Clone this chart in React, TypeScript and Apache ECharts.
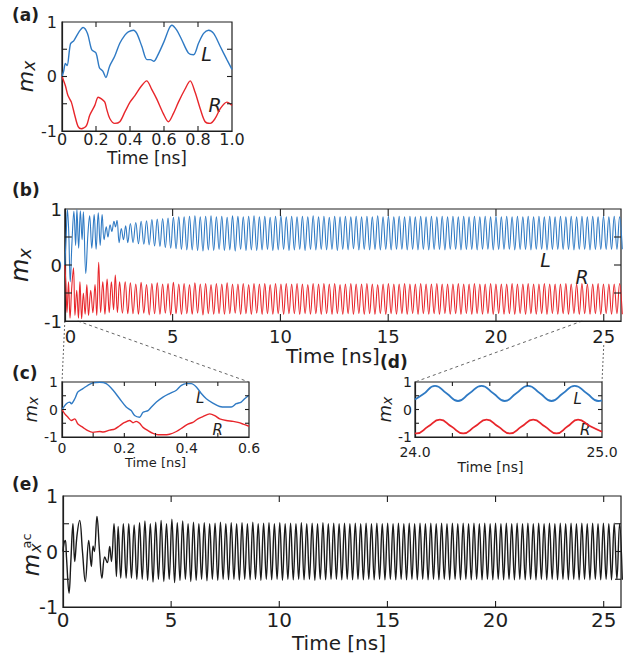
import React, { useEffect, useRef } from 'react';
import * as echarts from 'echarts';

const FONT = "'DejaVu Sans', 'Liberation Sans', Arial, sans-serif";
const INK = '#1e1e1e';
const BLUE = '#2f7ac4';
const RED = '#e8262b';
const BLACK = '#1a1a1a';

// ---------- (a) 0–1 ns ----------
const aL: number[][] = [
  [0, 0], [0.01, 0.1], [0.02, 0.24], [0.03, 0.2], [0.05, 0.6], [0.07, 0.66], [0.1, 0.82], [0.124, 0.9],
  [0.15, 0.79], [0.175, 0.49], [0.2, 0.43], [0.22, 0.16], [0.24, 0.1], [0.258, -0.02], [0.28, 0.19],
  [0.31, 0.37], [0.34, 0.61], [0.37, 0.76], [0.39, 0.82], [0.42, 0.85], [0.44, 0.79], [0.47, 0.55],
  [0.5, 0.31], [0.52, 0.31], [0.54, 0.28], [0.56, 0.37], [0.6, 0.64], [0.63, 0.88], [0.646, 0.94],
  [0.675, 0.85], [0.705, 0.67], [0.744, 0.43], [0.774, 0.4], [0.803, 0.61], [0.833, 0.79], [0.862, 0.85],
  [0.892, 0.79], [0.931, 0.55], [0.97, 0.31], [1.0, 0.13],
];
const aR: number[][] = [
  [0, 0], [0.02, -0.17], [0.035, -0.35], [0.055, -0.47], [0.075, -0.71], [0.095, -0.92], [0.114, -0.96],
  [0.144, -0.9], [0.163, -0.71], [0.193, -0.53], [0.213, -0.38], [0.232, -0.41], [0.252, -0.47],
  [0.262, -0.59], [0.281, -0.77], [0.31, -0.86], [0.34, -0.83], [0.37, -0.65], [0.4, -0.47], [0.429, -0.35],
  [0.468, -0.17], [0.498, -0.08], [0.527, -0.23], [0.557, -0.41], [0.596, -0.68], [0.626, -0.83],
  [0.655, -0.68], [0.685, -0.47], [0.724, -0.23], [0.754, -0.08], [0.783, -0.29], [0.813, -0.59],
  [0.842, -0.83], [0.872, -0.86], [0.901, -0.77], [0.931, -0.59], [0.97, -0.47], [1.0, -0.53],
];

// ---------- (b) 0–25.8 ns ----------
const bLStart: number[][] = [
  [0, 0], [0.06, 0.5], [0.12, 0.99], [0.18, 0.6], [0.25, -0.3], [0.33, 0.4], [0.42, 0.96], [0.5, 0.35],
  [0.56, 0.99], [0.64, 0.3], [0.72, 0.97], [0.8, 0.45], [0.86, 0.95], [0.97, -0.15], [1.07, 0.55],
  [1.15, 0.88], [1.25, 0.3], [1.36, 0.9], [1.45, 0.28], [1.55, 0.93], [1.64, 0.35], [1.73, 0.9],
  [1.82, 0.45], [1.92, 0.68], [2.0, 0.5], [2.1, 0.72], [2.18, 0.6], [2.28, 0.78], [2.35, 0.68],
  [2.42, 0.8], [2.52, 0.4], [2.62, 0.65], [2.72, 0.45], [2.82, 0.7], [2.92, 0.4],
];
const bRStart: number[][] = [
  [0, 0], [0.05, -0.35], [0.1, -0.85], [0.17, -0.3], [0.24, -0.95], [0.32, -0.4], [0.4, -0.05],
  [0.47, -0.9], [0.55, -0.45], [0.63, -0.95], [0.7, -0.3], [0.78, -0.96], [0.86, -0.5], [0.94, -0.88],
  [1.02, -0.35], [1.1, -0.9], [1.2, -0.45], [1.3, -0.85], [1.4, -0.35], [1.48, -0.9], [1.57, 0.05],
  [1.66, -0.85], [1.76, -0.3], [1.86, -0.88], [1.96, -0.25], [2.06, -0.85], [2.16, -0.3], [2.26, -0.8],
  [2.34, -0.18], [2.44, -0.85], [2.54, -0.3], [2.67, -0.86], [2.8, -0.3], [2.92, -0.87],
];
// steady state: values sampled at every half period (peak, trough, peak, ...)
const steadyT0 = 3.04;
const sampleStep = 0.1247;
const bLSteady = [
  0.74, 0.40, 0.76, 0.38, 0.78, 0.37, 0.79, 0.36, 0.81, 0.34, 0.82, 0.33, 0.83, 0.31, 0.84, 0.30, 0.85, 0.29, 0.86, 0.28,
  0.86, 0.27, 0.87, 0.27, 0.88, 0.26, 0.86, 0.25, 0.87, 0.27, 0.88, 0.26, 0.86, 0.28, 0.87, 0.26, 0.85, 0.27, 0.88, 0.25,
  0.87, 0.28, 0.86, 0.26, 0.87, 0.27, 0.88, 0.26, 0.86, 0.27, 0.87, 0.28, 0.85, 0.26, 0.87, 0.27, 0.88, 0.28, 0.86, 0.26,
  0.87, 0.27, 0.86, 0.28, 0.87, 0.26, 0.86, 0.28, 0.88, 0.27, 0.86, 0.28, 0.87, 0.27, 0.85, 0.28, 0.87, 0.26, 0.86, 0.28,
  0.87, 0.27, 0.86, 0.29, 0.87, 0.27, 0.86, 0.28, 0.87, 0.27, 0.86, 0.28, 0.88, 0.27, 0.86, 0.28, 0.87, 0.27, 0.86, 0.28,
  0.87, 0.28, 0.86, 0.27, 0.87, 0.28, 0.86, 0.27, 0.87, 0.28, 0.86, 0.27, 0.87, 0.28, 0.86, 0.28, 0.87, 0.27, 0.86, 0.28,
  0.87, 0.28, 0.86, 0.27, 0.87, 0.28, 0.86, 0.28, 0.87, 0.27, 0.86, 0.28, 0.87, 0.28, 0.86, 0.27, 0.87, 0.28, 0.86, 0.28,
  0.87, 0.28, 0.86, 0.27, 0.87, 0.28, 0.86, 0.28, 0.87, 0.27, 0.86, 0.28, 0.87, 0.28, 0.86, 0.27, 0.87, 0.28, 0.86, 0.28,
  0.87, 0.28, 0.86, 0.28, 0.87, 0.27, 0.86, 0.28, 0.87, 0.28, 0.86, 0.27, 0.87, 0.28, 0.86, 0.28, 0.87, 0.28, 0.86, 0.28,
  0.87, 0.28, 0.86, 0.28,
];
const bRSteady = [
  -0.32, -0.87, -0.34, -0.88, -0.31, -0.86, -0.35, -0.89, -0.33, -0.87, -0.32, -0.88, -0.34, -0.86, -0.33, -0.89, -0.31, -0.87, -0.34, -0.88,
  -0.33, -0.87, -0.35, -0.88, -0.32, -0.86, -0.34, -0.89, -0.33, -0.87, -0.35, -0.88, -0.33, -0.87, -0.34, -0.88, -0.32, -0.87, -0.34, -0.86,
  -0.34, -0.88, -0.33, -0.87, -0.35, -0.88, -0.33, -0.86, -0.34, -0.88, -0.33, -0.87, -0.35, -0.88, -0.33, -0.87, -0.34, -0.88, -0.33, -0.87,
  -0.34, -0.87, -0.33, -0.88, -0.34, -0.87, -0.35, -0.88, -0.33, -0.87, -0.34, -0.88, -0.33, -0.87, -0.34, -0.88, -0.33, -0.87, -0.35, -0.88,
  -0.34, -0.87, -0.33, -0.88, -0.34, -0.87, -0.34, -0.88, -0.33, -0.87, -0.34, -0.88, -0.35, -0.87, -0.34, -0.88, -0.33, -0.87, -0.34, -0.88,
  -0.34, -0.87, -0.33, -0.88, -0.34, -0.87, -0.34, -0.88, -0.33, -0.87, -0.34, -0.88, -0.34, -0.87, -0.33, -0.88, -0.34, -0.87, -0.34, -0.88,
  -0.34, -0.87, -0.33, -0.88, -0.34, -0.87, -0.34, -0.88, -0.33, -0.87, -0.34, -0.88, -0.34, -0.87, -0.33, -0.88, -0.34, -0.87, -0.34, -0.88,
  -0.34, -0.87, -0.33, -0.88, -0.34, -0.87, -0.34, -0.88, -0.33, -0.87, -0.34, -0.88, -0.34, -0.87, -0.33, -0.88, -0.34, -0.87, -0.34, -0.88,
  -0.34, -0.87, -0.33, -0.88, -0.34, -0.87, -0.34, -0.88, -0.33, -0.87, -0.34, -0.88, -0.34, -0.87, -0.33, -0.88, -0.34, -0.87, -0.34, -0.88,
  -0.34, -0.87, -0.33, -0.88,
];

// ---------- (c) 0–0.6 ns ----------
const cL: number[][] = [
  [0, 0], [0.014, 0.21], [0.025, 0.27], [0.03, 0.21], [0.041, 0.39], [0.051, 0.64], [0.067, 0.76],
  [0.083, 0.88], [0.099, 0.97], [0.121, 0.99], [0.142, 0.94], [0.164, 0.7], [0.185, 0.39], [0.206, 0.09],
  [0.222, -0.04], [0.233, -0.22], [0.249, -0.28], [0.26, -0.1], [0.276, -0.04], [0.287, 0.09],
  [0.303, 0.27], [0.324, 0.45], [0.345, 0.58], [0.367, 0.7], [0.383, 0.88], [0.399, 0.94], [0.415, 0.94],
  [0.431, 0.82], [0.447, 0.58], [0.463, 0.39], [0.484, 0.23], [0.506, 0.11], [0.527, 0.09], [0.543, 0.09],
  [0.559, 0.21], [0.575, 0.27], [0.586, 0.39], [0.6, 0.52],
];
const cR: number[][] = [
  [0, 0], [0.009, -0.16], [0.019, -0.28], [0.03, -0.4], [0.041, -0.34], [0.051, -0.53], [0.067, -0.65],
  [0.083, -0.77], [0.099, -0.83], [0.121, -0.8], [0.132, -0.82], [0.153, -0.75], [0.169, -0.71],
  [0.185, -0.59], [0.201, -0.47], [0.217, -0.4], [0.228, -0.48], [0.238, -0.43], [0.249, -0.5],
  [0.26, -0.65], [0.276, -0.77], [0.292, -0.87], [0.308, -0.92], [0.324, -0.92], [0.345, -0.9],
  [0.367, -0.8], [0.388, -0.65], [0.404, -0.53], [0.42, -0.47], [0.436, -0.34], [0.452, -0.26],
  [0.474, -0.16], [0.49, -0.22], [0.506, -0.34], [0.527, -0.4], [0.549, -0.43], [0.565, -0.47],
  [0.581, -0.53], [0.6, -0.61],
];

// ---------- (d) 24–25 ns ----------
const dL: number[][] = [
  [24.0, 0.36], [24.045, 0.56], [24.107, 0.86], [24.17, 0.58], [24.23, 0.31], [24.29, 0.58], [24.356, 0.86],
  [24.42, 0.58], [24.48, 0.31], [24.54, 0.58], [24.605, 0.86], [24.67, 0.58], [24.73, 0.31], [24.79, 0.58],
  [24.854, 0.86], [24.92, 0.58], [24.98, 0.31], [25.0, 0.33],
];
const dR: number[][] = [
  [24.0, -0.86], [24.008, -0.87], [24.07, -0.62], [24.133, -0.37], [24.195, -0.62], [24.258, -0.87],
  [24.32, -0.62], [24.383, -0.37], [24.445, -0.62], [24.508, -0.87], [24.57, -0.62], [24.632, -0.37],
  [24.695, -0.62], [24.757, -0.87], [24.815, -0.62], [24.872, -0.37], [24.935, -0.6], [25.0, -0.81],
];

// ---------- (e) 0–25.8 ns ----------
const eStart: number[][] = [
  [0, 0], [0.05, 0.15], [0.11, 0.2], [0.16, -0.1], [0.28, -0.75], [0.36, -0.2], [0.46, 0.5], [0.54, -0.18],
  [0.65, 0.3], [0.77, 0.56], [0.9, 0.0], [1.03, -0.54], [1.19, 0.2], [1.31, -0.27], [1.39, 0.1], [1.45, 0.0],
  [1.57, 0.63], [1.69, 0.0], [1.8, -0.48], [1.93, -0.1], [2.05, -0.2], [2.16, 0.09], [2.24, -0.18],
  [2.36, 0.5], [2.47, -0.45], [2.55, 0.45], [2.67, -0.48], [2.79, 0.5], [2.92, -0.48],
];
const eSteady = [
  0.50, -0.48, 0.48, -0.50, 0.52, -0.50, 0.55, -0.52, 0.50, -0.55, 0.53, -0.50, 0.56, -0.54, 0.50, -0.50, 0.58, -0.56, 0.52, -0.52,
  0.55, -0.50, 0.50, -0.54, 0.53, -0.52, 0.50, -0.50, 0.52, -0.53, 0.50, -0.50, 0.51, -0.52, 0.53, -0.50, 0.50, -0.51, 0.52, -0.50,
  0.50, -0.52, 0.52, -0.50, 0.50, -0.51, 0.53, -0.50, 0.50, -0.52, 0.51, -0.50, 0.52, -0.51, 0.50, -0.50, 0.52, -0.52, 0.50, -0.50,
  0.51, -0.51, 0.50, -0.50, 0.52, -0.51, 0.50, -0.50, 0.51, -0.52, 0.50, -0.50, 0.52, -0.51, 0.50, -0.50, 0.51, -0.50, 0.50, -0.51,
  0.51, -0.50, 0.50, -0.51, 0.51, -0.50, 0.50, -0.51, 0.51, -0.50, 0.50, -0.51, 0.51, -0.50, 0.50, -0.51, 0.51, -0.50, 0.50, -0.51,
  0.51, -0.50, 0.50, -0.51, 0.51, -0.50, 0.50, -0.51, 0.51, -0.50, 0.50, -0.51, 0.51, -0.50, 0.50, -0.51, 0.51, -0.50, 0.50, -0.51,
  0.51, -0.50, 0.50, -0.51, 0.51, -0.50, 0.50, -0.51, 0.51, -0.50, 0.50, -0.51, 0.51, -0.50, 0.50, -0.51, 0.51, -0.50, 0.50, -0.51,
  0.51, -0.50, 0.50, -0.51, 0.51, -0.50, 0.50, -0.51, 0.51, -0.50, 0.50, -0.51, 0.51, -0.50, 0.50, -0.51, 0.51, -0.50, 0.50, -0.51,
  0.51, -0.50, 0.50, -0.51, 0.51, -0.50, 0.50, -0.51, 0.51, -0.50, 0.50, -0.51, 0.51, -0.50, 0.50, -0.51, 0.51, -0.50, 0.50, -0.51,
  0.51, -0.50, 0.50, -0.51,
];

// tick labels / texts
const panelLetters = ['(a)', '(b)', '(c)', '(d)', '(e)'];
const timeName = 'Time [ns]';
const curveNames = ['L', 'R'];
// label anchors in data coordinates: [panel, x, y, text index]
const curveLabelAnchors: number[][] = [
  [0, 0.85, 0.42, 0], [0, 0.9, -0.53, 1],
  [1, 22.3, 0.09, 0], [1, 24.0, -0.22, 1],
  [2, 0.443, 0.42, 0], [2, 0.5, -0.75, 1],
  [3, 24.87, 0.4, 0], [3, 24.91, -0.75, 1],
];
const zoomRanges = [[0, 0.6], [24, 25]];
const yRange = [-1, 1];
const yStep = 0.5;

const withTimes = (start: number[][], steady: number[]) =>
  start.concat(steady.map((v, i) => [steadyT0 + i * sampleStep, v]));

// ---------- layout ----------
const grids = [
  { left: 62, top: 22, width: 170, height: 109 },
  { left: 63, top: 209, width: 558, height: 112 },
  { left: 62, top: 382, width: 187, height: 55 },
  { left: 415, top: 382, width: 187, height: 55 },
  { left: 63, top: 496, width: 558, height: 111 },
];

const isMult = (v: number, m: number) => Math.abs(v / m - Math.round(v / m)) < 1e-6;
const fmtA = (v: number) => (Math.abs(v) < 1e-9 ? '0' : v.toFixed(1));
const fmtB = (v: number) => (isMult(v, 5) ? String(Math.round(v)) : '');
const fmtC = (v: number) => (isMult(v, 0.2) ? (Math.abs(v) < 1e-9 ? '0' : v.toFixed(1)) : '');
const fmtD = (v: number) => (Math.abs(v - 24) < 1e-6 || Math.abs(v - 25) < 1e-6 ? v.toFixed(1) : '');
const fmtY = (v: number) => (isMult(v, 1) ? String(Math.round(v)) : '');

type Panel = {
  xMin: number; xMax: number; xInt: number; fmt: (v: number) => string;
  xFont: number; xMargin: number; nameGap: number; nameFont: number; namePad: number[];
  tick: number; yFont: number; yMargin: number; yNameGap: number; mFont: number; sFont: number; sOff: number;
  yName: boolean; alignMin?: boolean;
};
const panels: Panel[] = [
  { xMin: 0, xMax: 1, xInt: 0.2, fmt: fmtA, xFont: 16, xMargin: 0, nameGap: 18, nameFont: 17, namePad: [0, 0, 0, 0],
    tick: 5, yFont: 16, yMargin: 5, yNameGap: 23, mFont: 22, sFont: 17, sOff: 6, yName: true },
  { xMin: 0, xMax: 25.8, xInt: 5, fmt: fmtB, xFont: 18, xMargin: 6, nameGap: 24, nameFont: 20, namePad: [0, 20, 0, 0],
    tick: 7, yFont: 18, yMargin: 3, yNameGap: 22, mFont: 24, sFont: 18, sOff: 7, yName: true, alignMin: true },
  { xMin: 0, xMax: 0.6, xInt: 0.1, fmt: fmtC, xFont: 14, xMargin: 4, nameGap: 19, nameFont: 13, namePad: [0, 0, 0, 0],
    tick: 4, yFont: 14, yMargin: 4, yNameGap: 20, mFont: 18, sFont: 14, sOff: 5, yName: true },
  { xMin: 24, xMax: 25, xInt: 0.2, fmt: fmtD, xFont: 14, xMargin: 8, nameGap: 23, nameFont: 14, namePad: [0, 36, 0, 0],
    tick: 4, yFont: 14, yMargin: 3, yNameGap: 20, mFont: 18, sFont: 14, sOff: 5, yName: true },
  { xMin: 0, xMax: 25.8, xInt: 5, fmt: fmtB, xFont: 20, xMargin: 3, nameGap: 26, nameFont: 20, namePad: [0, 6, 0, 0],
    tick: 6, yFont: 19, yMargin: 5, yNameGap: 22, mFont: 23, sFont: 16, sOff: 7, yName: false },
];

function buildOption() {
  const xAxis: any[] = [];
  const yAxis: any[] = [];
  panels.forEach((p, i) => {
    xAxis.push({
      type: 'value', gridIndex: i, min: p.xMin, max: p.xMax, interval: p.xInt, position: 'bottom',
      axisLine: { show: true, onZero: false, lineStyle: { color: INK, width: 1.2 } },
      axisTick: { show: false }, splitLine: { show: false },
      axisLabel: { show: true, formatter: p.fmt, fontSize: p.xFont, margin: p.xMargin, color: INK, fontFamily: FONT,
        alignMinLabel: p.alignMin ? 'left' : undefined },
      name: timeName, nameLocation: 'middle', nameGap: p.nameGap,
      nameTextStyle: { fontSize: p.nameFont, color: INK, fontFamily: FONT, padding: p.namePad },
    });
    yAxis.push({
      type: 'value', gridIndex: i, min: yRange[0], max: yRange[1], interval: yStep, position: 'left',
      axisLine: { show: true, onZero: false, lineStyle: { color: INK, width: 1.2 } },
      axisTick: { show: false }, splitLine: { show: false },
      axisLabel: { show: true, formatter: fmtY, fontSize: p.yFont, margin: p.yMargin, color: INK, fontFamily: FONT },
      name: p.yName ? '{m|m}{s|x}' : '', nameLocation: 'middle', nameRotate: 90, nameGap: p.yNameGap,
      nameTextStyle: {
        rich: {
          m: { fontSize: p.mFont, fontStyle: 'italic', fontFamily: FONT, color: INK, verticalAlign: 'top' },
          s: { fontSize: p.sFont, fontStyle: 'italic', fontFamily: FONT, color: INK, verticalAlign: 'top', padding: [p.sOff, 0, 0, 0] },
        },
      },
    });
  });

  const line = (panel: number, data: number[][], color: string, width: number, smooth: number) => ({
    type: 'line', xAxisIndex: panel, yAxisIndex: panel, data, symbol: 'none', showSymbol: false,
    smooth, silent: true, lineStyle: { color, width }, clip: true,
  });

  return {
    animation: false,
    textStyle: { fontFamily: FONT },
    grid: grids.map((g) => ({ ...g, show: true, borderColor: INK, borderWidth: 1.2, backgroundColor: 'transparent', containLabel: false })),
    xAxis,
    yAxis,
    series: [
      line(0, aL, BLUE, 1.4, 0.3),
      line(0, aR, RED, 1.4, 0.3),
      line(1, withTimes(bLStart, bLSteady), BLUE, 1.1, 0.4),
      line(1, withTimes(bRStart, bRSteady), RED, 1.1, 0.4),
      line(2, cL, BLUE, 1.4, 0.3),
      line(2, cR, RED, 1.4, 0.3),
      line(3, dL, BLUE, 1.8, 0.5),
      line(3, dR, RED, 1.8, 0.5),
      line(4, withTimes(eStart, eSteady), BLACK, 1.4, 0.4),
    ],
  };
}

// values of the interior ticks of an axis (the end ticks fall on the frame)
const interiorTicks = (min: number, max: number, step: number) => {
  const out: number[] = [];
  const n = Math.floor((max - min) / step + 1e-9);
  for (let k = 1; k <= n; k++) {
    const v = +(min + k * step).toFixed(6);
    if (v < max - 1e-9) out.push(v);
  }
  return out;
};

export default function App() {
  const ref = useRef<HTMLDivElement>(null);
  useEffect(() => {
    if (!ref.current) return;
    const chart = echarts.init(ref.current, null, { renderer: 'svg' });
    chart.setOption(buildOption() as any);

    const px = (panel: number, x: number, y: number) =>
      chart.convertToPixel({ xAxisIndex: panel, yAxisIndex: panel } as any, [x, y]) as number[];

    const graphic: any[] = [];
    const tick = (x1: number, y1: number, x2: number, y2: number) => ({
      type: 'polyline', silent: true, z: 50,
      shape: { points: [[x1, y1], [x2, y2]] },
      style: { stroke: '#1e1e1e', lineWidth: 1.1, fill: null },
    });
    // inward tick marks on all four sides of each frame, placed through the axis scales
    panels.forEach((p, i) => {
      interiorTicks(p.xMin, p.xMax, p.xInt).forEach((v) => {
        const b = px(i, v, yRange[0]);
        const t = px(i, v, yRange[1]);
        graphic.push(tick(b[0], b[1], b[0], b[1] - p.tick), tick(t[0], t[1], t[0], t[1] + p.tick));
      });
      interiorTicks(yRange[0], yRange[1], yStep).forEach((v) => {
        const l = px(i, p.xMin, v);
        const r = px(i, p.xMax, v);
        graphic.push(tick(l[0], l[1], l[0] + p.tick, l[1]), tick(r[0], r[1], r[0] - p.tick, r[1]));
      });
    });

    const letterPos = [[12, 15], [12, 190], [12, 373], [380, 362], [12, 484]];
    panelLetters.forEach((t, i) => {
      graphic.push({
        type: 'text', x: letterPos[i][0], y: letterPos[i][1],
        style: { text: t, fontSize: 17, fontWeight: 'bold', fontFamily: FONT, fill: INK, align: 'left', verticalAlign: 'middle' },
      });
    });
    curveLabelAnchors.forEach(([panel, x, y, k]) => {
      const p = px(panel, x, y);
      const fs = panel < 2 ? 19 : 15;
      graphic.push({
        type: 'text', x: p[0], y: p[1],
        style: { text: curveNames[k], fontSize: fs, fontStyle: 'italic', fontFamily: FONT, fill: INK, align: 'center', verticalAlign: 'middle' },
      });
    });
    zoomRanges.forEach((rng, j) => {
      const target = j === 0 ? 2 : 3;
      rng.forEach((xv, k) => {
        const from = px(1, xv, yRange[0]);
        const to = px(target, xv, yRange[1]);
        const vertical = (j === 0 && k === 0) || (j === 1 && k === 1);
        const startY = j === 1 && k === 1 ? from[1] + 24 : from[1];
        graphic.push({
          type: 'line',
          shape: { x1: from[0], y1: startY, x2: to[0], y2: to[1] },
          style: { stroke: '#666', lineWidth: 1, lineDash: vertical ? [2, 2] : [3, 3] },
          silent: true,
        });
      });
    });
    graphic.push(
      { type: 'text', x: 31, y: 565, rotation: Math.PI / 2,
        style: { text: 'm', fontSize: 23, fontStyle: 'italic', fontFamily: FONT, fill: INK, align: 'center', verticalAlign: 'middle' } },
      { type: 'text', x: 35, y: 548, rotation: Math.PI / 2,
        style: { text: 'x', fontSize: 16, fontStyle: 'italic', fontFamily: FONT, fill: INK, align: 'center', verticalAlign: 'middle' } },
      { type: 'text', x: 26, y: 541, rotation: Math.PI / 2,
        style: { text: 'ac', fontSize: 13, fontFamily: FONT, fill: INK, align: 'center', verticalAlign: 'middle' } },
    );
    chart.setOption({ graphic } as any);
    return () => chart.dispose();
  }, []);
  return <div ref={ref} style={{ position: 'absolute', left: 0, top: 0, width: 636, height: 660 }} />;
}
